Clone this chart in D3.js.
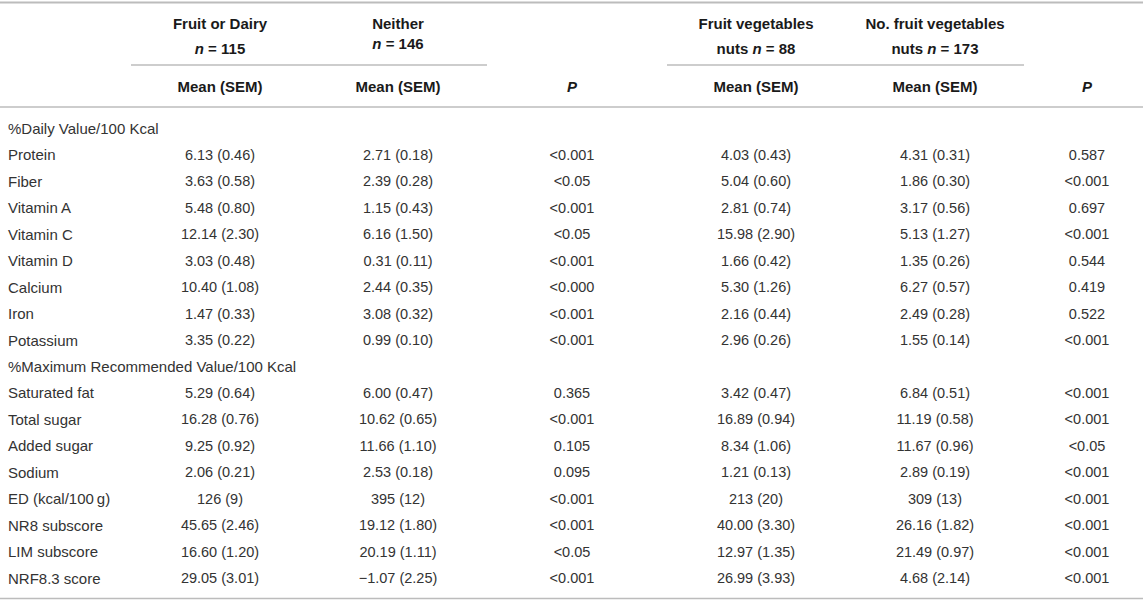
<!DOCTYPE html>
<html>
<head>
<meta charset="utf-8">
<script src="https://cdn.jsdelivr.net/npm/d3@7"></script>
<style>
  body { margin: 0; background: #fff; }
  svg text { font-family: "Liberation Sans", Arial, sans-serif; fill: #333; }
  .head { font-weight: bold; fill: #1a1a1a; }
</style>
</head>
<body>
<svg id="table"></svg>
<script>
// row labels, section rows have no values
const rowLabels = ["%Daily Value/100 Kcal", "Protein", "Fiber", "Vitamin A", "Vitamin C", "Vitamin D",
  "Calcium", "Iron", "Potassium", "%Maximum Recommended Value/100 Kcal", "Saturated fat",
  "Total sugar", "Added sugar", "Sodium", "ED (kcal/100\u2009g)", "NR8 subscore", "LIM subscore", "NRF8.3 score"];
const sectionRows = [0, 9];

// data rows (16), same order as the non-section labels
const fruitDairyMean = [6.13, 3.63, 5.48, 12.14, 3.03, 10.40, 1.47, 3.35, 5.29, 16.28, 9.25, 2.06, 126, 45.65, 16.60, 29.05];
const fruitDairySem  = [0.46, 0.58, 0.80, 2.30, 0.48, 1.08, 0.33, 0.22, 0.64, 0.76, 0.92, 0.21, 9, 2.46, 1.20, 3.01];
const neitherMean    = [2.71, 2.39, 1.15, 6.16, 0.31, 2.44, 3.08, 0.99, 6.00, 10.62, 11.66, 2.53, 395, 19.12, 20.19, -1.07];
const neitherSem     = [0.18, 0.28, 0.43, 1.50, 0.11, 0.35, 0.32, 0.10, 0.47, 0.65, 1.10, 0.18, 12, 1.80, 1.11, 2.25];
const pFirst         = ["<0.001", "<0.05", "<0.001", "<0.05", "<0.001", "<0.000", "<0.001", "<0.001",
  "0.365", "<0.001", "0.105", "0.095", "<0.001", "<0.001", "<0.05", "<0.001"];
const fvnMean        = [4.03, 5.04, 2.81, 15.98, 1.66, 5.30, 2.16, 2.96, 3.42, 16.89, 8.34, 1.21, 213, 40.00, 12.97, 26.99];
const fvnSem         = [0.43, 0.60, 0.74, 2.90, 0.42, 1.26, 0.44, 0.26, 0.47, 0.94, 1.06, 0.13, 20, 3.30, 1.35, 3.93];
const noFvnMean      = [4.31, 1.86, 3.17, 5.13, 1.35, 6.27, 2.49, 1.55, 6.84, 11.19, 11.67, 2.89, 309, 26.16, 21.49, 4.68];
const noFvnSem       = [0.31, 0.30, 0.56, 1.27, 0.26, 0.57, 0.28, 0.14, 0.51, 0.58, 0.96, 0.19, 13, 1.82, 0.97, 2.14];
const pSecond        = ["0.587", "<0.001", "0.697", "<0.001", "0.544", "0.419", "0.522", "<0.001",
  "<0.001", "<0.001", "<0.05", "<0.001", "<0.001", "<0.001", "<0.001", "<0.001"];
const integerRows = [12];

// header texts
const groupTitles = ["Fruit or Dairy", "Neither", "Fruit vegetables", "No. fruit vegetables"];
const groupPrefix = ["", "", "nuts ", "nuts "];
const groupN = [115, 146, 88, 173];
const columnKeys = ["fd", "ne", "p1", "fvn", "nofvn", "p2"];

const width = 1143, height = 602;
const svg = d3.select("#table").attr("width", width).attr("height", height);

const x = d3.scaleOrdinal().domain(columnKeys).range([220, 398, 572, 756, 935, 1087]);
const y = d3.scaleLinear().domain([0, rowLabels.length - 1]).range([128.5, 578]);

const fmt2 = d3.format(".2f"), fmt0 = d3.format("d");
function cell(m, s, i) {
  const f = integerRows.includes(i) ? fmt0 : fmt2;
  return f(m) + " (" + f(s) + ")";
}

// rules
const lineColor = "#bcbcbc";
svg.append("line").attr("x1", 0).attr("x2", width).attr("y1", 2.5).attr("y2", 2.5)
  .attr("stroke", lineColor).attr("stroke-width", 2);
svg.append("line").attr("x1", 0).attr("x2", width).attr("y1", 107).attr("y2", 107)
  .attr("stroke", lineColor).attr("stroke-width", 1.5);
svg.append("line").attr("x1", 0).attr("x2", width).attr("y1", 598.5).attr("y2", 598.5)
  .attr("stroke", lineColor).attr("stroke-width", 1.5);
// spanner rules under the two group headers
[["fd", "ne"], ["fvn", "nofvn"]].forEach(pair => {
  svg.append("line").attr("x1", x(pair[0]) - 89).attr("x2", x(pair[1]) + 89)
    .attr("y1", 65).attr("y2", 65).attr("stroke", lineColor).attr("stroke-width", 1.5);
});

// header
const groupCols = ["fd", "ne", "fvn", "nofvn"];
const head = svg.append("g").attr("class", "head").attr("text-anchor", "middle")
  .attr("dominant-baseline", "central").style("font-size", "15px");
head.selectAll("text.title").data(groupTitles).join("text").attr("class", "title head")
  .attr("x", (d, i) => x(groupCols[i])).attr("y", 23).text(d => d);
const nText = head.selectAll("text.n").data(groupN).join("text").attr("class", "n head")
  .attr("x", (d, i) => x(groupCols[i])).attr("y", (d, i) => i === 1 ? 43 : 48);
nText.append("tspan").text((d, i) => groupPrefix[i]);
nText.append("tspan").style("font-style", "italic").text("n");
nText.append("tspan").text(d => " = " + d);
columnKeys.forEach(k => {
  const t = head.append("text").attr("class", "head").attr("x", x(k)).attr("y", 86);
  if (k[0] === "p") t.style("font-style", "italic").text("P");
  else t.text("Mean (SEM)");
});

// body
const body = svg.append("g").style("font-size", "14.5px").attr("dominant-baseline", "central");
body.selectAll("text.label").data(rowLabels).join("text").attr("class", "label")
  .style("font-size", "15px")
  .attr("x", 8).attr("y", (d, i) => y(i)).text(d => d);

const dataRowIdx = rowLabels.map((d, i) => i).filter(i => !sectionRows.includes(i));
const columns = {
  fd: fruitDairyMean.map((m, i) => cell(m, fruitDairySem[i], i)),
  ne: neitherMean.map((m, i) => cell(m, neitherSem[i], i)),
  p1: pFirst,
  fvn: fvnMean.map((m, i) => cell(m, fvnSem[i], i)),
  nofvn: noFvnMean.map((m, i) => cell(m, noFvnSem[i], i)),
  p2: pSecond
};
columnKeys.forEach(k => {
  body.append("g").attr("text-anchor", "middle")
    .selectAll("text").data(columns[k]).join("text")
    .attr("x", x(k)).attr("y", (d, i) => y(dataRowIdx[i])).text(d => d);
});
</script>
</body>
</html>
